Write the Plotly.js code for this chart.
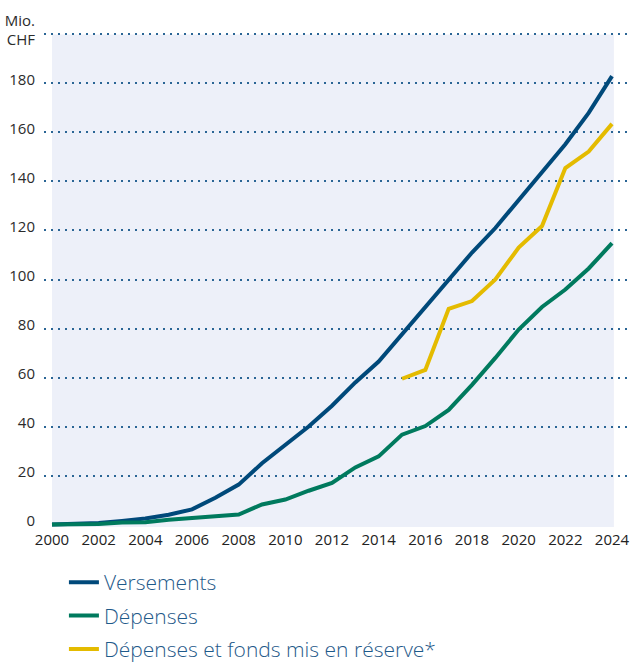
<!DOCTYPE html>
<html>
<head>
<meta charset="utf-8">
<script src="https://cdn.plot.ly/plotly-3.0.1.min.js"></script>
<style>html,body{margin:0;padding:0;background:#fff;}#chart{width:630px;height:662px;}</style>
</head>
<body>
<div id="chart"></div>
<script>
const years = [2000,2001,2002,2003,2004,2005,2006,2007,2008,2009,2010,2011,2012,2013,2014,2015,2016,2017,2018,2019,2020,2021,2022,2023,2024];
const versements = [0,0.2,0.6,1.5,2.5,4.0,6.2,10.9,16.3,25,32.6,40,48.5,58,66.5,77.5,88.5,99.7,111,121,132.5,144,155.2,168,183];
const depenses = [0,0,0.2,0.8,0.9,2.0,2.8,3.4,4.1,8.2,10.2,13.8,17,23.3,27.8,36.7,40.2,46.8,57,68,79.6,88.8,95.9,104.5,114.8];
const reserveYears = [2015,2016,2017,2018,2019,2020,2021,2022,2023,2024];
const reserve = [59.5,63.1,88,91.2,100,113,121.8,145.5,152.2,163.5];
const seriesNames = ["Versements","Dépenses","Dépenses et fonds mis en réserve*"];
const yTicks = [0,20,40,60,80,100,120,140,160,180,200];
const yTickText = ["0","20","40","60","80","100","120","140","160","180","Mio.<br>CHF"];
const xTicks = [2000,2002,2004,2006,2008,2010,2012,2014,2016,2018,2020,2022,2024];

const colors = ["#00497a","#007a5e","#e4bb00"];

const traces = [
  {x: years, y: versements, name: seriesNames[0], legendgroup: "a"},
  {x: years, y: depenses, name: seriesNames[1], legendgroup: "b"},
  {x: reserveYears, y: reserve, name: seriesNames[2], legendgroup: "c"}
].map((t, i) => Object.assign(t, {
  type: "scatter", mode: "lines",
  line: {color: colors[i], width: 4},
  hoverinfo: "skip"
}));

const layout = {
  width: 630, height: 662,
  margin: {l: 44, r: 0, t: 32, b: 135, pad: 0, autoexpand: false},
  paper_bgcolor: "#ffffff",
  plot_bgcolor: "rgba(0,0,0,0)",
  font: {family: "Open Sans, sans-serif", color: "#2b2b2b"},
  showlegend: true,
  legend: {
    x: 0.034, xanchor: "left", y: -0.071, yanchor: "top",
    orientation: "v", tracegroupgap: 3,
    font: {size: 21, color: "#1f5a8a", family: "Open Sans, sans-serif", weight: 300},
    bgcolor: "rgba(0,0,0,0)"
  },
  xaxis: {
    range: [1999.657, 2024.771],
    tickvals: xTicks, ticktext: xTicks.map(String),
    showgrid: false, zeroline: false, showline: false,
    ticks: "", ticklabelstandoff: 2,
    tickfont: {size: 15, color: "#222222"},
    fixedrange: true
  },
  yaxis: {
    range: [-1, 201],
    tickvals: yTicks, ticktext: yTickText,
    showgrid: true, gridcolor: "#2a6595", gridwidth: 2, griddash: "2px,5px",
    zeroline: true, zerolinecolor: "rgba(0,0,0,0)", zerolinewidth: 1,
    showline: false, ticks: "", ticklabelstandoff: 8, ticklabelshift: -4,
    tickfont: {size: 15, color: "#2b2b2b"},
    fixedrange: true
  },
  shapes: [{
    type: "rect", layer: "below", xref: "x", yref: "y",
    x0: 2000, x1: 2024.08, y0: -1, y1: 200,
    fillcolor: "#edf0f9", line: {width: 0}
  }]
};

Plotly.newPlot("chart", traces, layout, {displayModeBar: false, staticPlot: true});
</script>
</body>
</html>
